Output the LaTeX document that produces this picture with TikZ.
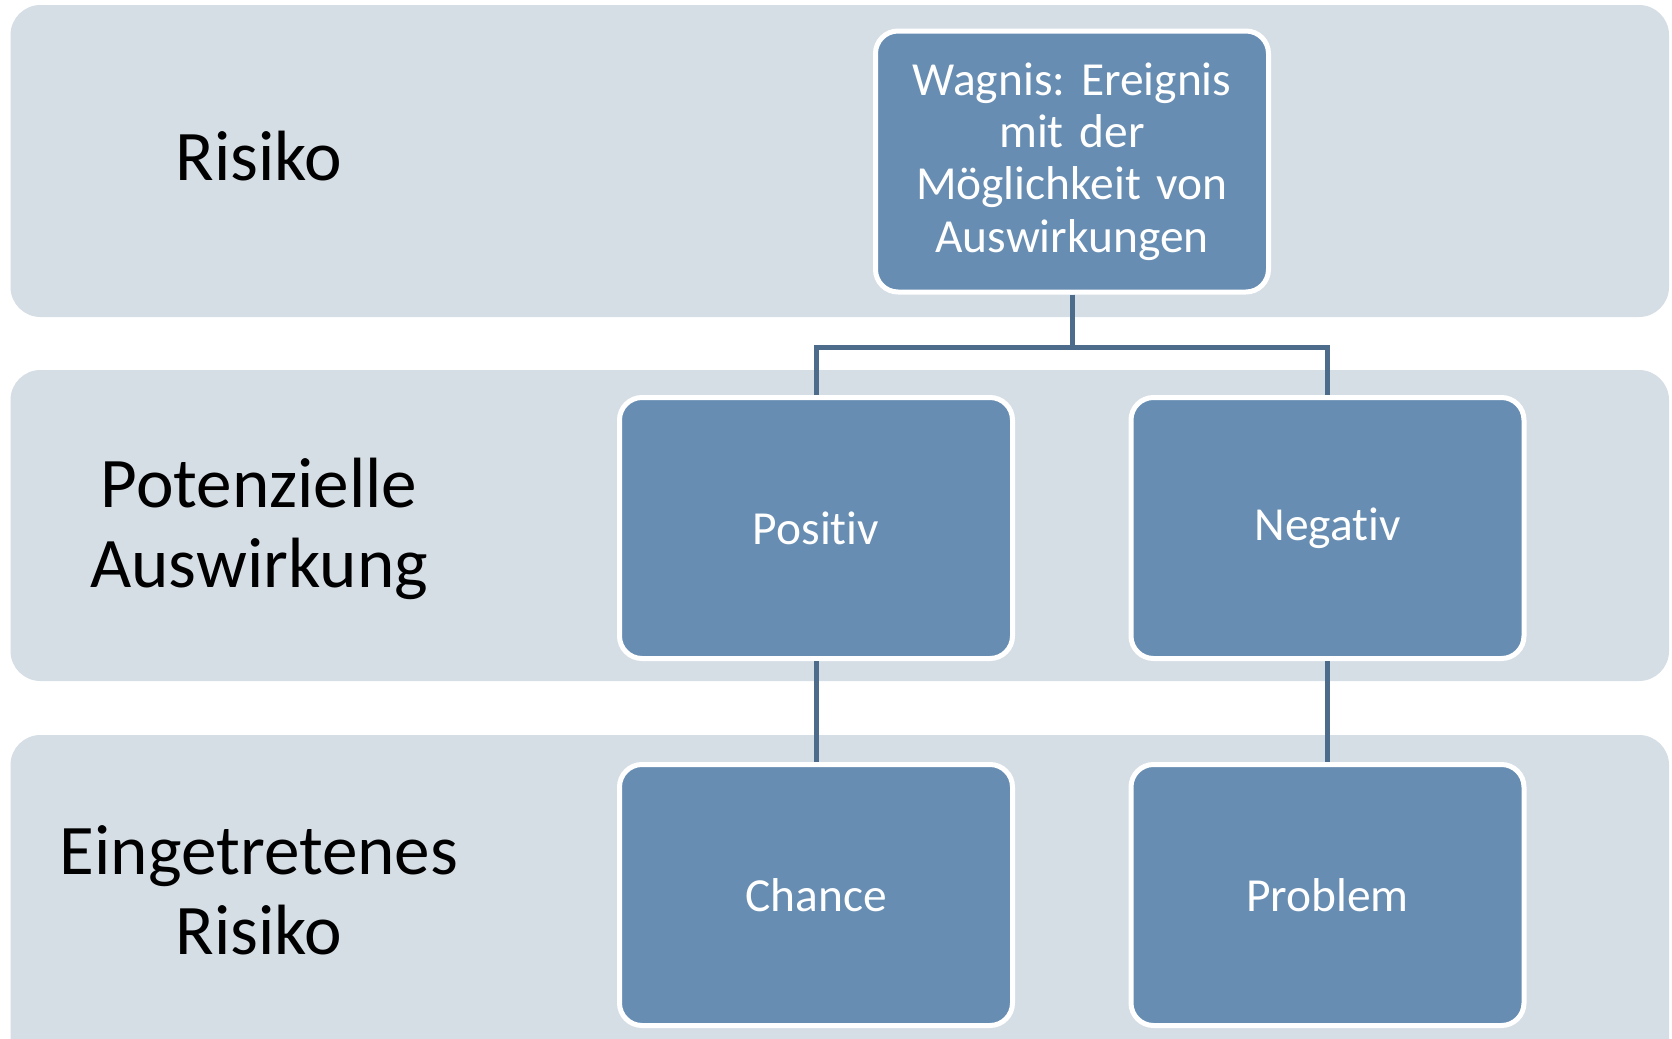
\documentclass[tikz,border=0pt]{standalone}
\usepackage{fontspec}
\setmainfont{Carlito}[Ligatures=NoCommon]
\usepackage{xcolor}
\usepackage{tikz}
\usetikzlibrary{positioning, calc}

\definecolor{bandgray}{HTML}{D5DDE5}
\definecolor{boxblue}{HTML}{678DB2}
\definecolor{linkblue}{HTML}{4D6B8B}

\begin{document}
\frenchspacing
\begin{tikzpicture}[
    band/.style={fill=bandgray, rounded corners=0.6cm},
    box/.style={rectangle, draw=white, line width=0.1cm, fill=boxblue, rounded corners=0.45cm, minimum width=7.86cm, minimum height=5.22cm, text width=7cm, align=center, text=white, font=\fontsize{27}{29.8}\selectfont},
    rowtext/.style={align=center, text=black, font=\fontsize{40.5}{45.5}\selectfont},
    conn/.style={draw=linkblue, line width=0.1cm}
]
\useasboundingbox (0,0) rectangle (33.44,-20.78);

% Background bands, one per level
\fill[band] (0.21,-0.1) rectangle (33.38,-6.34);
\fill[band] (0.21,-7.4) rectangle (33.38,-13.62);
\fill[band] (0.21,-14.7) rectangle (33.38,-21.6);

% Row titles on the left
\node[rowtext] (trisk) at (5.18,-3.12) {Risiko};
\node[rowtext] (timpact) at (5.18,-10.58) {Potenzielle\\Auswirkung};
\node[rowtext] (toccur) at (5.18,-17.8) {Eingetretenes\\Risiko};

% Level 0 - the event itself
\node[box] (wagnis) at (21.44,-3.23) {Wagnis: Ereignis\\mit der\\Möglichkeit von\\Auswirkungen};

% Level 1 - possible impact
\node[box] (positiv) at (16.32,-10.56) {Positiv};
\node[box] (negativ) at (26.55,-10.56) {Negativ};

% Level 2 - what happened
\node[box] (chance) at (16.32,-17.9) {Chance};
\node[box] (problem) at (26.55,-17.9) {Problem};

% Connectors
\draw[conn] (wagnis.south) -- ++(0,-1.05) -| (positiv.north);
\draw[conn] (wagnis.south) -- ++(0,-1.05) -| (negativ.north);
\draw[conn] (positiv.south) -- (chance.north);
\draw[conn] (negativ.south) -- (problem.north);
\end{tikzpicture}
\end{document}
